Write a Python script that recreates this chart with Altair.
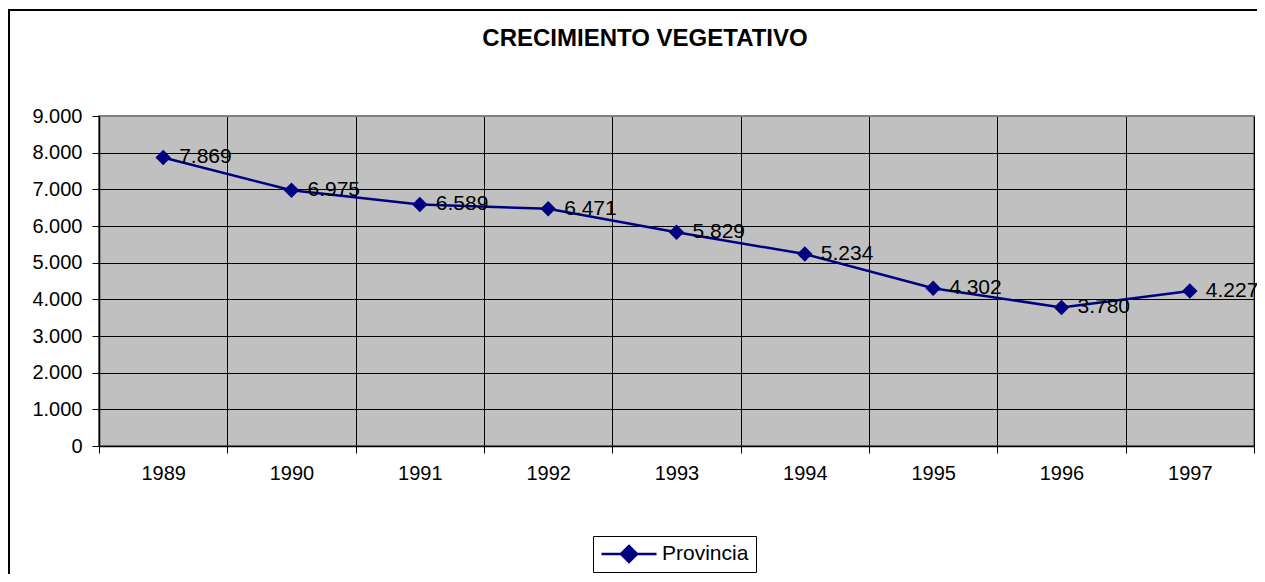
import altair as alt
import pandas as pd

years = ["1989", "1990", "1991", "1992", "1993", "1994", "1995", "1996", "1997"]
values = [7869, 6975, 6589, 6471, 5829, 5234, 4302, 3780, 4227]
series = ["Provincia"] * len(years)
y_ticks = [0, 1000, 2000, 3000, 4000, 5000, 6000, 7000, 8000, 9000]
title_text = ["CRECIMIENTO VEGETATIVO"]

FONT = "Liberation Sans, Arial, sans-serif"
NAVY = "#000080"

df = pd.DataFrame({"year": years, "value": values, "serie": series})

base = alt.Chart(df).transform_calculate(
    lbl="replace(format(datum.value, ',d'), ',', '.')"
)

x_enc = alt.X(
    "year:N",
    bandPosition=0.5,
    scale=alt.Scale(type="band", paddingInner=0, paddingOuter=0),
    axis=alt.Axis(
        title=None, tickBand="extent", grid=True, gridColor="black", gridWidth=1,
        domainColor="black", domainWidth=1.5, tickColor="black", tickSize=7,
        labelFontSize=20, labelFont=FONT, labelColor="black", labelPadding=10,
        labelAngle=0,
    ),
)
y_enc = alt.Y(
    "value:Q",
    scale=alt.Scale(domain=[0, 9000], nice=False),
    axis=alt.Axis(
        title=None, values=y_ticks, grid=True,
        gridColor={"condition": {"test": "datum.value == 9000", "value": "#808080"}, "value": "black"},
        gridWidth=1,
        domainColor="black", domainWidth=1.5, tickColor="black", tickSize=7,
        labelFontSize=20, labelFont=FONT, labelColor="black", labelPadding=10,
        labelExpr="replace(format(datum.value, ',d'), ',', '.')",
    ),
)

line = base.mark_line(color=NAVY, strokeWidth=2.5).encode(x=x_enc, y=y_enc)

points = base.mark_point(shape="diamond", filled=True, size=240, opacity=1).encode(
    x=x_enc,
    y=y_enc,
    color=alt.Color(
        "serie:N",
        scale=alt.Scale(range=[NAVY]),
        legend=alt.Legend(
            title=None, orient="none", legendX=494, legendY=420,
            symbolType="M-1,0L4,0M0.77,0L1.5,-0.73L2.23,0L1.5,0.73Z",
            symbolSize=484, symbolFillColor=NAVY, symbolStrokeColor=NAVY,
            symbolStrokeWidth=2.5, labelFontSize=21, labelFont=FONT,
            labelColor="black", strokeColor="black", fillColor="white",
            padding=7, labelOffset=37, clipHeight=22,
        ),
    ),
)

labels = base.mark_text(
    align="left", baseline="middle", dx=16, fontSize=21, font=FONT, color="black"
).encode(x=x_enc, y=y_enc, text="lbl:N")

frame = alt.Chart(pd.DataFrame({"a": [0]})).mark_rect(
    fill="transparent", stroke="black", strokeWidth=2, clip=False
).encode(
    x=alt.value(-90), x2=alt.value(1170), y=alt.value(-106), y2=alt.value(470)
)

title = alt.Chart(pd.DataFrame({"t": title_text})).mark_text(
    align="center", baseline="middle", font=FONT, fontSize=24, fontWeight="bold",
    color="black",
).encode(text="t:N", x=alt.value(546), y=alt.value(-77))

chart = alt.layer(frame, line, points, labels, title).properties(
    width=1155,
    height=330,
    autosize=alt.AutoSizeParams(type="none"),
    padding={"left": 91, "top": 108, "right": 3, "bottom": 128},
    background="white",
).configure_view(
    fill="#C0C0C0", stroke="#808080", strokeWidth=2
)

chart.save("out.html", embed_options={"renderer": "svg", "actions": False})
